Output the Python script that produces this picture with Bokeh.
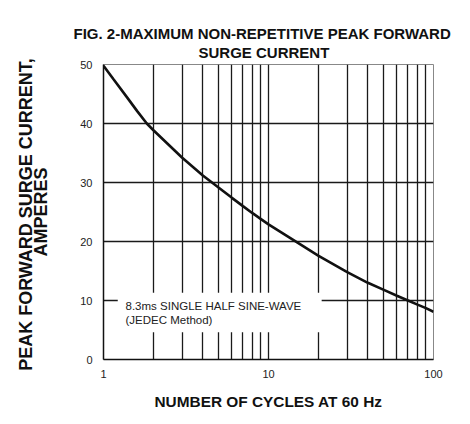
from bokeh.plotting import figure
from bokeh.models import FixedTicker, PrintfTickFormatter, ColumnDataSource, Range1d, Title, LinearAxis
from bokeh.core.properties import value
from bokeh.embed import file_html
from bokeh.resources import INLINE

# Data
cycles = [1, 1.15, 1.4, 1.6, 1.83, 2, 3, 4, 5, 6, 7, 8, 9, 10, 15, 20, 30, 40, 50, 60, 70, 80, 90, 100]
current = [49.8, 47.5, 44.3, 42.1, 40.0, 38.9, 34.2, 31.2, 29.1, 27.4, 26.0, 24.8, 23.8, 22.9, 19.8, 17.6,
           14.8, 13.0, 11.8, 10.8, 10.0, 9.3, 8.7, 8.1]
x_ticks = [1, 10, 100]
y_ticks = [0, 10, 20, 30, 40, 50]
x_grid = [2, 3, 4, 5, 6, 7, 8, 9, 10, 20, 30, 40, 50, 60, 70, 80, 90]
y_grid = [10, 20, 30, 40]
title_lines = ["FIG. 2-MAXIMUM NON-REPETITIVE PEAK FORWARD", "SURGE CURRENT"]
y_label_lines = ["PEAK  FORWARD SURGE CURRENT,", "AMPERES"]
x_label = "NUMBER OF CYCLES AT 60 Hz"
note_lines = ["8.3ms SINGLE HALF SINE-WAVE", "(JEDEC Method)"]
note_x = [1.36, 1.36]
note_y = [9.0, 6.75]
note_box = dict(left=[1.22], right=[21.0], bottom=[4.6], top=[11.3])

FONT = "Liberation Sans"

p = figure(width=462, height=412, x_axis_type="log",
           x_range=Range1d(1, 100), y_range=Range1d(0, 50),
           output_backend="svg", toolbar_location=None,
           min_border_left=103, min_border_right=29, min_border_top=64, min_border_bottom=52)

def style_title(t, off, standoff):
    t.align = "left"
    t.text_font = FONT
    t.text_font_size = "15px"
    t.text_font_style = "bold"
    t.text_color = "#111111"
    t.offset = off
    t.standoff = standoff

p.title.text = title_lines[0]
style_title(p.title, -30, -6)
t2 = Title(text=title_lines[1])
style_title(t2, 95, 7)
p.add_layout(t2, "above")

p.outline_line_color = "#888888"
p.outline_line_width = 1

# grid
p.xgrid.ticker = FixedTicker(ticks=x_grid)
p.ygrid.ticker = FixedTicker(ticks=y_grid)
for g in (p.xgrid, p.ygrid):
    g.grid_line_color = "#1a1a1a"
    g.grid_line_width = 1.3
    g.grid_line_alpha = 1.0

# axes
p.xaxis.ticker = FixedTicker(ticks=x_ticks)
p.xaxis.formatter = PrintfTickFormatter(format="%d")
p.yaxis.ticker = FixedTicker(ticks=y_ticks)
for ax in (p.xaxis, p.yaxis):
    ax.axis_line_color = "#111111"
    ax.axis_line_width = 1.5
    ax.major_tick_line_color = None
    ax.minor_tick_line_color = None
    ax.major_label_text_font = FONT
    ax.major_label_text_font_size = "11px"
    ax.major_label_text_color = "#222222"
    ax.axis_label_text_font = FONT
    ax.axis_label_text_font_style = "bold"
    ax.axis_label_text_color = "#111111"
p.xaxis.major_label_standoff = 4
p.yaxis.major_label_standoff = 5

p.xaxis.axis_label = x_label
p.xaxis.axis_label_text_font_size = "15.4px"
p.xaxis.axis_label_standoff = 12

p.yaxis.axis_label = y_label_lines[1]
p.yaxis.axis_label_text_font_size = "18px"
p.yaxis.axis_label_standoff = 26

outer = LinearAxis(axis_label=y_label_lines[0], ticker=FixedTicker(ticks=[]),
                   axis_line_color=None, major_tick_line_color=None, minor_tick_line_color=None,
                   major_label_standoff=0, axis_label_standoff=-7,
                   axis_label_text_font=FONT, axis_label_text_font_style="bold",
                   axis_label_text_font_size="18px", axis_label_text_color="#111111")
p.add_layout(outer, "left")

# note box that blanks the grid
p.quad(source=ColumnDataSource(note_box), left="left", right="right",
       bottom="bottom", top="top", fill_color="white", line_color=None)

# curve
p.line(cycles, current, line_color="#111111", line_width=2.6)

# note text
p.text(x=note_x, y=note_y, text=note_lines, text_font=value(FONT),
       text_font_size="11.5px", text_color="#222222", text_baseline="middle",
       text_align="left")

open("out.html", "w").write(file_html(p, INLINE))
